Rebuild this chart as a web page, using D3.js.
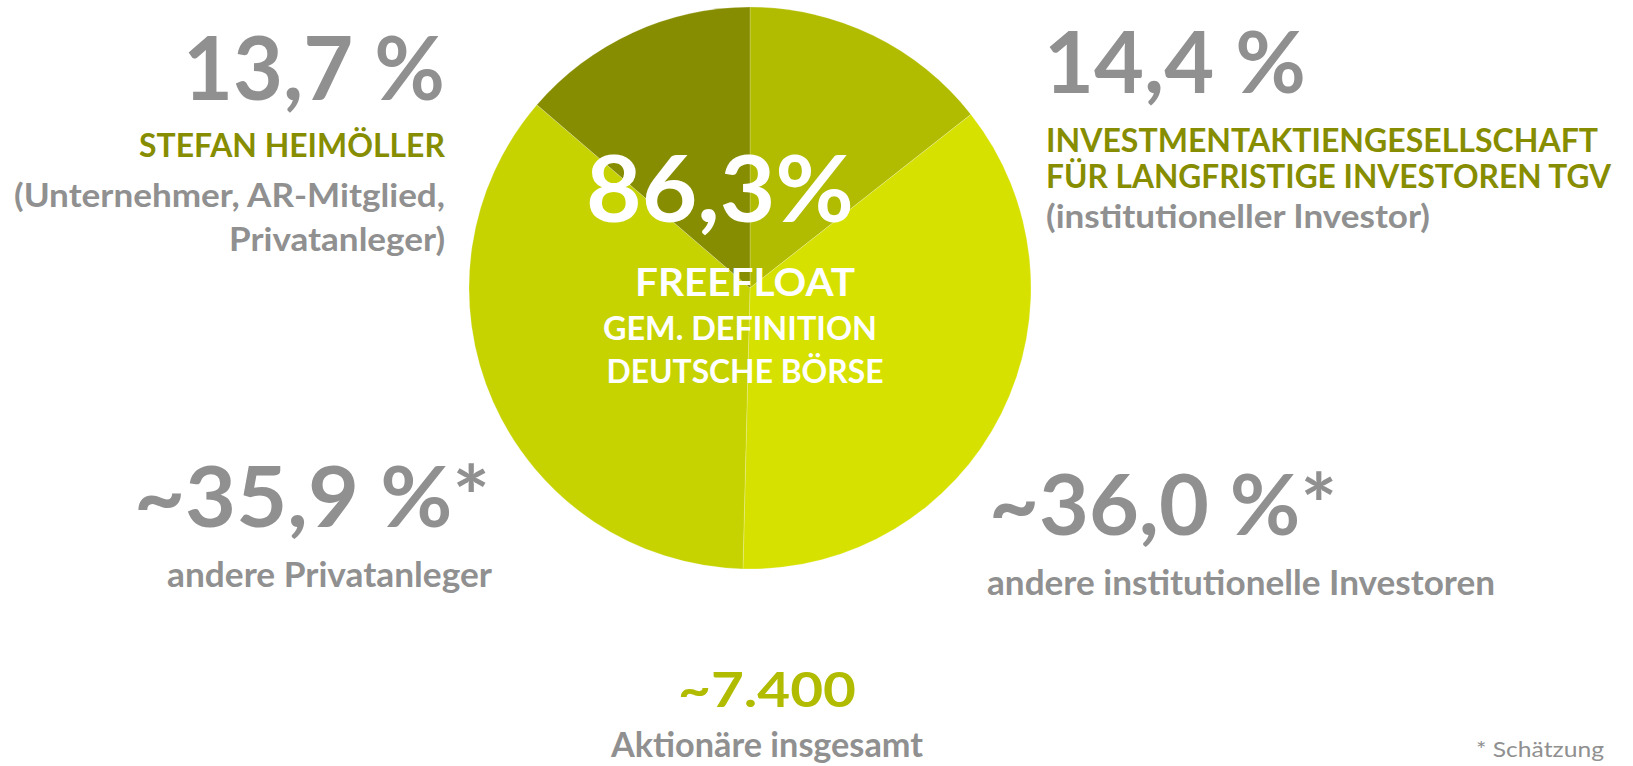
<!DOCTYPE html>
<html>
<head>
<meta charset="utf-8">
<script src="https://cdn.jsdelivr.net/npm/d3@7"></script>
<style>
  html, body { margin: 0; padding: 0; background: #ffffff; }
  svg { display: block; }
  text { font-family: "Lato", "Open Sans", sans-serif; font-weight: 700; }
</style>
</head>
<body>
<svg id="chart" width="1633" height="766"></svg>
<script>
// ---- data ----
const holders = [
  "Investmentaktiengesellschaft für langfristige Investoren TGV",
  "andere institutionelle Investoren",
  "andere Privatanleger",
  "Stefan Heimöller"
];
const shares = [14.4, 36.0, 35.9, 13.7];
const shareLabels = ["14,4 %", "~36,0 %*", "~35,9 %*", "13,7 %"];
const sliceColors = ["#b1bc00", "#d7e100", "#c6d300", "#878d00"];
const freefloatLabel = "86,3%";
const freefloatLines = ["FREEFLOAT", "GEM. DEFINITION", "DEUTSCHE BÖRSE"];
const shareholderCount = "~7.400";
const shareholderCaption = "Aktionäre insgesamt";
const footnote = "* Schätzung";

// ---- drawing ----
const svg = d3.select("#chart");
const grey = "#909090";
const olive = "#878d00";

const cx = 750, cy = 288, R = 281;
const pie = d3.pie().sort(null).value(d => d);
const arc = d3.arc().innerRadius(0).outerRadius(R);

svg.append("g")
  .attr("transform", `translate(${cx},${cy})`)
  .selectAll("path")
  .data(pie(shares))
  .join("path")
  .attr("d", arc)
  .attr("fill", (d, i) => sliceColors[i])
  .attr("stroke", "rgba(255,255,255,0.35)")
  .attr("stroke-width", 0.6);

function addText(x, y, str, size, color, anchor, len, weight) {
  const t = svg.append("text")
    .attr("x", x).attr("y", y)
    .attr("font-size", size)
    .attr("fill", color)
    .attr("text-anchor", anchor)
    .text(str);
  if (weight) t.style("font-weight", weight);
  if (len) t.attr("textLength", len).attr("lengthAdjust", "spacingAndGlyphs");
  return t;
}

// top-left: Stefan Heimöller
addText(445, 100, shareLabels[3], 88, grey, "end", 262);
addText(445, 157, "STEFAN HEIMÖLLER", 33, olive, "end", 306);
addText(445, 207, "(Unternehmer, AR-Mitglied,", 33, grey, "end", 431);
addText(445, 251, "Privatanleger)", 33, grey, "end", 216);

// top-right: TGV
addText(1044, 93, shareLabels[0], 86, grey, "start", 262);
addText(1046, 152, "INVESTMENTAKTIENGESELLSCHAFT", 32, olive, "start", 552);
addText(1046, 188, "FÜR LANGFRISTIGE INVESTOREN TGV", 32, olive, "start", 565);
addText(1046, 228, "(institutioneller Investor)", 33, grey, "start", 384);

// lower-left
addText(134, 527, shareLabels[2], 84, grey, "start", 356);
addText(167, 587, "andere Privatanleger", 34, grey, "start", 325);

// lower-right
addText(989, 535, shareLabels[1], 84, grey, "start", 348);
addText(987, 595, "andere institutionelle Investoren", 34, grey, "start", 508);

// bottom
addText(678, 707, shareholderCount, 48, "#b1bc00", "start", 178);
addText(611, 757, shareholderCaption, 34, grey, "start", 312);
addText(1476, 757, footnote, 22, grey, "start", 128, 400);

// centre text
addText(720, 222, freefloatLabel, 92, "#ffffff", "middle", 268);
addText(745, 296, freefloatLines[0], 39, "#ffffff", "middle", 220);
addText(740, 340, freefloatLines[1], 33, "#ffffff", "middle", 274);
addText(745, 383, freefloatLines[2], 33, "#ffffff", "middle", 277);
</script>
</body>
</html>
